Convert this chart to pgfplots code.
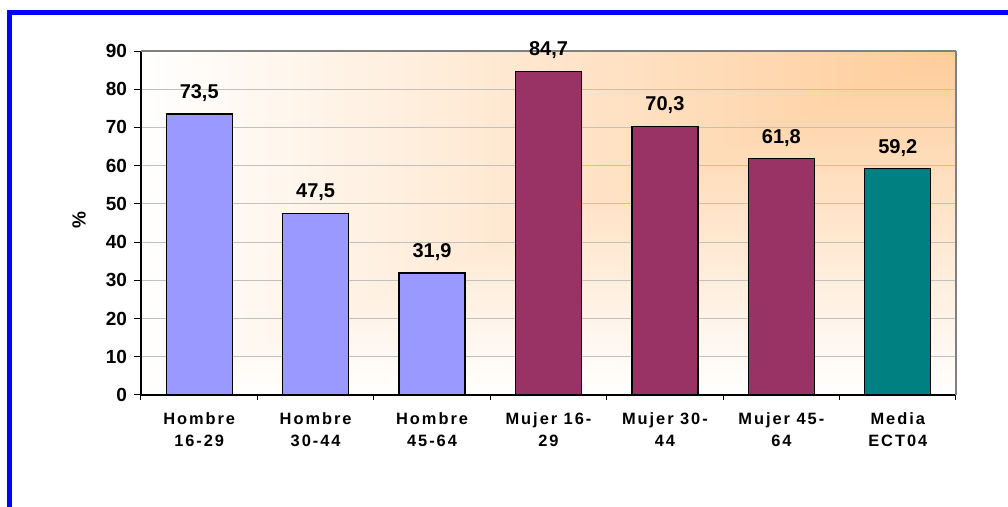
\documentclass[border=0pt]{standalone}
\usepackage{pgfplots}
\pgfplotsset{compat=1.18}
\usepackage{fontspec}
\setmainfont{Liberation Sans}
\newfontfamily\spacedfont[LetterSpace=12]{Liberation Sans}
\definecolor{barblue}{HTML}{9999FF}
\definecolor{barpurple}{HTML}{993366}
\definecolor{barteal}{HTML}{008080}
\definecolor{gridgray}{HTML}{C0C0C0}
\definecolor{framegray}{HTML}{808080}
\pgfdeclarefunctionalshading{cornershade}{\pgfpoint{0bp}{0bp}}{\pgfpoint{100bp}{100bp}}{}{2 copy gt {exch} if pop 25 sub 50 div dup 0 lt {pop 0} if dup 1 gt {pop 1} if dup 0.2 mul 1 exch sub exch 0.4 mul 1 exch sub 1 3 1 roll}
\begin{document}
\begin{tikzpicture}[x=1pt,y=1pt]
\path[use as bounding box] (0,0) rectangle (504,253.5);
\fill[blue] (3.65,246) rectangle (504,248.5);
\fill[blue] (3.65,0) rectangle (6.15,248.5);
\begin{axis}[
  at={(70.5pt,56pt)}, anchor=south west,
  scale only axis, width=407.5pt, height=172pt,
  xmin=-0.5, xmax=6.5, ymin=0, ymax=90,
  axis lines*=left,
  axis line style={black, line width=0.6pt},
  axis background/.style={shade, shading=cornershade},
  /pgf/number format/assume math mode=true,
  ytick={0,10,...,90},
  ymajorgrids,
  major grid style={draw=gridgray, line width=0.6pt},
  tick align=outside,
  major tick length=3.5pt,
  y tick style={black, line width=0.5pt},
  yticklabel style={font=\bfseries\fontsize{9.5}{11}\selectfont},
  extra y ticks={90},
  extra y tick labels={},
  extra y tick style={grid=major, major grid style={draw=framegray, line width=0.9pt}},
  xtick={0,...,6},
  xticklabels={{Hombre\\16-29},{Hombre\\30-44},{Hombre\\45-64},{Mujer 16-\\29},{Mujer 30-\\44},{Mujer 45-\\64},{Media\\ECT04}},
  xticklabel style={align=center, yshift=-2pt, font=\spacedfont\bfseries\fontsize{8.2}{11}\selectfont},
  x tick style={draw=none},
  extra x ticks={-0.5,0.5,...,6.5},
  extra x tick labels={},
  extra x tick style={grid=none, major tick length=2.5pt, x tick style={draw=black, line width=0.5pt}},
  ylabel={\%},
  ylabel style={font=\bfseries\fontsize{9.5}{11}\selectfont, at={(axis description cs:0,0.509)}, anchor=center, yshift=31pt},
  nodes near coords={\pgfmathprintnumber[fixed,fixed zerofill,precision=1,use comma]{\pgfplotspointmeta}},
  nodes near coords style={font=\bfseries\fontsize{10}{12}\selectfont, anchor=south, inner sep=0pt, yshift=6pt},
  after end axis/.code={\draw[framegray, line width=0.9pt] (rel axis cs:1,1) -- (rel axis cs:1,0);},
]
\addplot[ybar, bar width=33pt, bar shift=0pt, fill=barblue, draw=black, line width=0.6pt] coordinates {(0,73.5) (1,47.5) (2,31.9)};
\addplot[ybar, bar width=33pt, bar shift=0pt, fill=barpurple, draw=black, line width=0.6pt] coordinates {(3,84.7) (4,70.3) (5,61.8)};
\addplot[ybar, bar width=33pt, bar shift=0pt, fill=barteal, draw=black, line width=0.6pt] coordinates {(6,59.2)};
\end{axis}
\end{tikzpicture}
\end{document}
